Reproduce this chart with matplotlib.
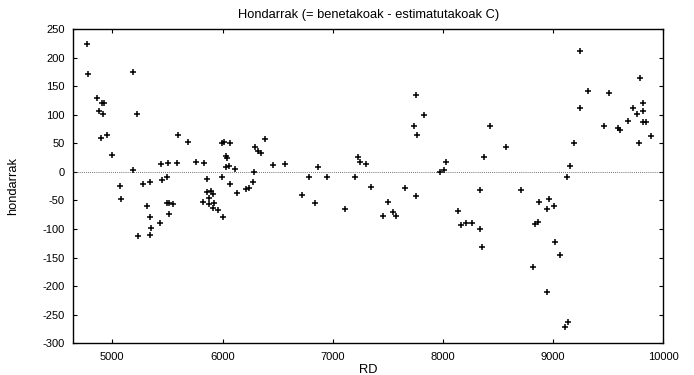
import numpy as np
import matplotlib
matplotlib.use("Agg")
import matplotlib.pyplot as plt

plt.rcParams['font.family'] = ['Liberation Sans', 'DejaVu Sans']
plt.rcParams['axes.unicode_minus'] = False

# RD balioak eta hondarrak (irudiatik irakurrita)
rd = [4773, 4782, 4861, 4909, 4925, 4876, 4915, 4895, 4949, 5000,
      5188, 5225, 5191, 5067, 5079, 5279, 5345, 5449, 5495,
      5445, 5509, 5588, 5313, 5340, 5352, 5236, 5340, 5434,
      5497, 5518, 5552, 5515, 5597, 5685, 5755, 5834, 5858,
      5827, 5855, 5895, 5913, 5873, 5879, 5927, 5918, 5955, 6006,
      5997, 6015, 6070, 6033, 6040, 6030, 6055, 6109, 5994, 6070, 6127,
      6213, 6240, 6291, 6325, 6349, 6388, 6288, 6279, 6455,
      6570, 6864, 6788, 6949, 7204, 7227, 7252, 7304, 7349, 7655,
      7758, 7831, 7740, 7767, 7970, 8009, 8027,
      6725, 6836, 7113, 7758, 7500, 7452, 7543, 7573,
      8140, 8161, 8211, 8261,
      8340, 8706, 8340, 8352, 8870, 8964, 8943, 9006, 8840, 8867,
      9013, 9061, 8815, 8945, 9131, 9109,
      8431, 8376, 8570, 9240, 9318, 9240, 9185, 9152, 9125, 9506,
      9458, 9591, 9606, 9676, 9727, 9761, 9785, 9815, 9815, 9812,
      9845, 9782, 9888]
hondarrak = [224, 171, 129, 120, 120, 107, 101, 60, 64, 30,
             174, 102, 3, -25, -48, -22, -18, -14, -9,
             14, 16, 15, -59, -79, -99, -113, -111, -90,
             -54, -54, -56, -73, 64, 52, 18, 16, -13,
             -52, -36, -33, -39, -45, -57, -55, -64, -66, -79,
             50, 53, 50, 27, 25, 9, 10, 5, -9, -22, -37,
             -30, -29, 43, 36, 33, 57, -1, -18, 12,
             13, 9, -9, -9, -9, 26, 17, 14, -26, -29,
             135, 100, 80, 65, 0, 4, 18,
             -41, -55, -65, -42, -53, -78, -71, -78,
             -68, -93, -90, -90,
             -31, -31, -100, -131, -53, -48, -65, -59, -91, -87,
             -123, -146, -166, -211, -263, -271,
             80, 26, 44, 211, 141, 111, 50, 10, -9, 138,
             81, 77, 74, 89, 112, 102, 165, 120, 107, 88,
             88, 51, 63]

xticks = [5000, 6000, 7000, 8000, 9000, 10000]
yticks = [-300, -250, -200, -150, -100, -50, 0, 50, 100, 150, 200, 250]

fig = plt.figure(figsize=(6.94, 3.75), dpi=100)
ax = fig.add_axes([0.1056, 0.0845, 0.8502, 0.8382])

ax.axhline(0, color='#444444', linestyle=(0, (1, 1.5)), linewidth=0.6)
ax.plot(rd, hondarrak, linestyle='none', marker='+', markersize=4.8,
        markeredgewidth=1.1, color='black')

ax.set_xlim(4646, 10000)
ax.set_ylim(-300, 250)
ax.set_xticks(xticks)
ax.set_yticks(yticks)
ax.tick_params(direction='in', length=3.2, width=0.8, labelsize=8,
               top=True, right=True, pad=6)
for s in ax.spines.values():
    s.set_linewidth(1.0)

ax.set_title("Hondarrak (= benetakoak - estimatutakoak C)", fontsize=9.3, pad=8)
ax.set_xlabel("RD", fontsize=9.3, labelpad=2)
ax.set_ylabel("hondarrak", fontsize=9.3, labelpad=17)

fig.savefig("out.png", dpi=100)
